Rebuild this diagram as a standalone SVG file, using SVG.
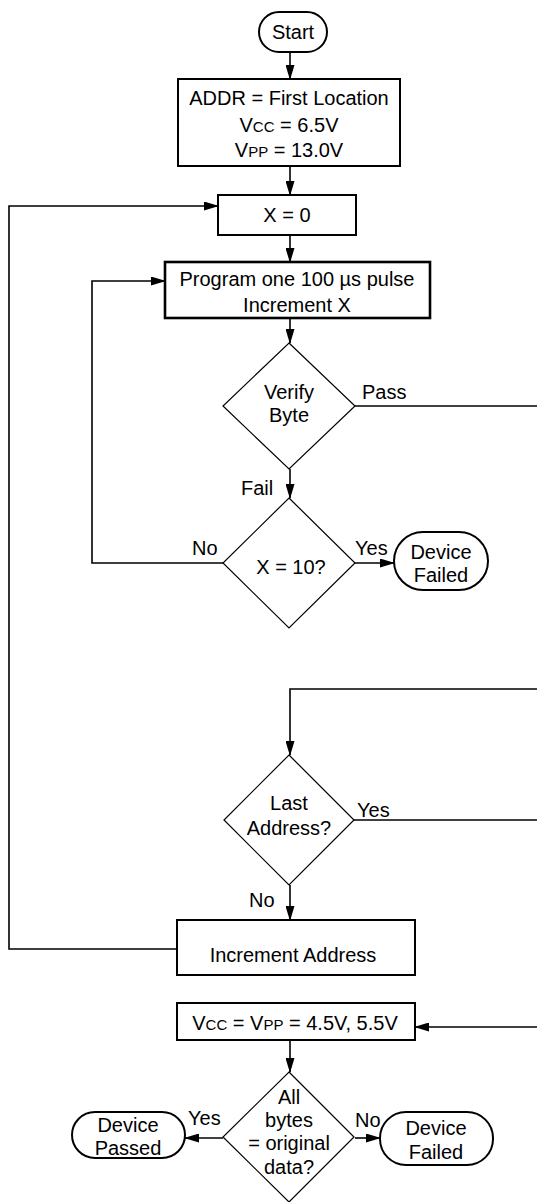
<svg xmlns="http://www.w3.org/2000/svg" width="537" height="1202" viewBox="0 0 537 1202">
<style>
text{font-family:"Liberation Sans",Arial,sans-serif;font-size:20px;fill:#000;text-anchor:middle}
.l{text-anchor:start}
.e{text-anchor:end}
.box{fill:#fff;stroke:#000;stroke-width:2}
.dia{fill:#fff;stroke:#000;stroke-width:1.2}
.term{fill:#fff;stroke:#000;stroke-width:2}
.c{fill:none;stroke:#000;stroke-width:1.6}
.sc{font-size:15px}
</style>
<defs>
<marker id="ah" markerUnits="userSpaceOnUse" markerWidth="15" markerHeight="9" refX="14" refY="4.5" orient="auto">
<path d="M0,0 L15,4.5 L0,9 z" fill="#000"/>
</marker>
</defs>
<g id="connectors">
<line class="c" x1="290" y1="52" x2="290" y2="79" marker-end="url(#ah)"/>
<line class="c" x1="290" y1="166" x2="290" y2="195" marker-end="url(#ah)"/>
<line class="c" x1="290" y1="235" x2="290" y2="262" marker-end="url(#ah)"/>
<line class="c" x1="290" y1="318" x2="290" y2="343" marker-end="url(#ah)"/>
<line class="c" x1="355" y1="406" x2="537" y2="406"/>
<line class="c" x1="290" y1="469" x2="290" y2="498" marker-end="url(#ah)"/>
<polyline class="c" points="223,563 92,563 92,281 165,281" marker-end="url(#ah)"/>
<line class="c" x1="355" y1="563" x2="394" y2="563" marker-end="url(#ah)"/>
<polyline class="c" points="537,689 290,689 290,755" marker-end="url(#ah)"/>
<line class="c" x1="354" y1="820" x2="537" y2="820"/>
<line class="c" x1="290" y1="885" x2="290" y2="920" marker-end="url(#ah)"/>
<polyline class="c" points="177,949 9,949 9,206 218,206" marker-end="url(#ah)"/>
<line class="c" x1="537" y1="1027" x2="415" y2="1027" marker-end="url(#ah)"/>
<line class="c" x1="290" y1="1040" x2="290" y2="1072" marker-end="url(#ah)"/>
<line class="c" x1="223" y1="1138" x2="185" y2="1138" marker-end="url(#ah)"/>
<line class="c" x1="355" y1="1138" x2="380" y2="1138" marker-end="url(#ah)"/>
</g>
<g id="start">
<rect class="term" x="259" y="12" width="68" height="40" rx="20"/>
<text x="293" y="39">Start</text>
</g>
<g id="init">
<rect class="box" x="178" y="79" width="222" height="87"/>
<text x="289" y="105">ADDR = First Location</text>
<text x="289" y="132">V<tspan class="sc">CC</tspan> = 6.5V</text>
<text x="289" y="157">V<tspan class="sc">PP</tspan> = 13.0V</text>
</g>
<g id="x0">
<rect class="box" x="218" y="195" width="138" height="40"/>
<text x="287" y="222">X = 0</text>
</g>
<g id="program">
<rect class="box" x="165" y="262" width="265" height="56" style="stroke-width:2.6"/>
<text x="297" y="286">Program one 100 µs pulse</text>
<text x="297" y="312">Increment X</text>
</g>
<g id="verify">
<polygon class="dia" points="289,343 355,406 289,469 223,406"/>
<text x="289" y="399">Verify</text>
<text x="289" y="422">Byte</text>
<text class="l" x="362" y="399">Pass</text>
<text class="l" x="241" y="495">Fail</text>
</g>
<g id="x10">
<polygon class="dia" points="289,498 355,563 289,628 223,563"/>
<text x="291" y="574">X = 10?</text>
<text class="l" x="192" y="555">No</text>
<text class="l" x="355" y="555">Yes</text>
</g>
<g id="failed1">
<rect class="term" x="394" y="532" width="94" height="58" rx="29"/>
<text x="441" y="559">Device</text>
<text x="441" y="582">Failed</text>
</g>
<g id="last">
<polygon class="dia" points="289,755 354,820 289,885 224,820"/>
<text x="289" y="810">Last</text>
<text x="289" y="835">Address?</text>
<text class="l" x="357" y="817">Yes</text>
<text class="l" x="249" y="907">No</text>
</g>
<g id="incaddr">
<rect class="box" x="177" y="920" width="238" height="55"/>
<text x="293" y="962">Increment Address</text>
</g>
<g id="verifyall">
<rect class="box" x="177" y="1003" width="238" height="37"/>
<text x="295" y="1030">V<tspan class="sc">CC</tspan> = V<tspan class="sc">PP</tspan> = 4.5V, 5.5V</text>
</g>
<g id="allbytes">
<polygon class="dia" points="289,1072 354,1137 289,1202 223,1137"/>
<text x="289" y="1104">All</text>
<text x="289" y="1127">bytes</text>
<text x="289" y="1150">= original</text>
<text x="289" y="1174">data?</text>
<text class="l" x="188" y="1125">Yes</text>
<text class="l" x="355" y="1127">No</text>
</g>
<g id="passed">
<rect class="term" x="72" y="1112" width="113" height="46" rx="23"/>
<text x="128" y="1132">Device</text>
<text x="128" y="1155">Passed</text>
</g>
<g id="failed2">
<rect class="term" x="380" y="1112" width="113" height="53" rx="26"/>
<text x="436" y="1135">Device</text>
<text x="436" y="1159">Failed</text>
</g>
</svg>
